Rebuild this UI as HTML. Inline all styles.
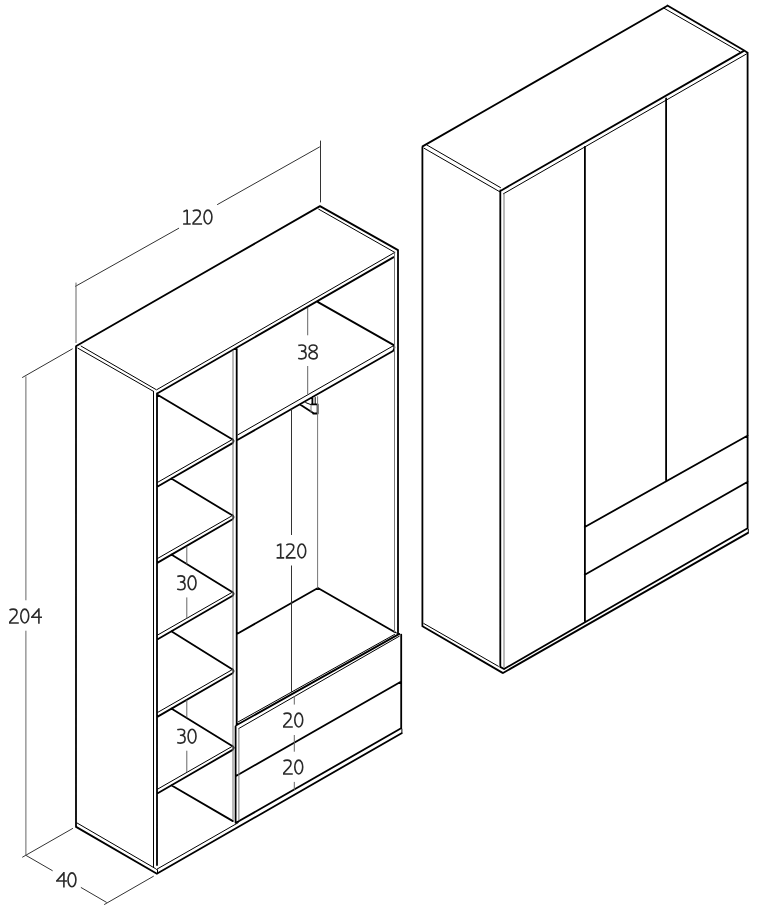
<!DOCTYPE html><html><head><meta charset="utf-8"><style>html,body{margin:0;padding:0;background:#fff;width:759px;height:909px;overflow:hidden}svg{display:block}text{font-family:"Liberation Sans",sans-serif;fill:#333}</style></head><body>
<svg width="759" height="909" viewBox="0 0 759 909">
<rect width="759" height="909" fill="#fff"/>
<path d="M76 346.5L76 826.9M76.3 346L320 206.1M320 206.1L397.6 249.9M398 250L398 633M76.1 826.9L156.9 873.7M157.2 873.5L401.6 733.2M157.6 393.2L393.7 257.1M157 393.5L157 865M236.7 348.5L236.7 724.8M157.9 395L232.6 439.5M232.3 438.9 Q234.6 440.7 232.6 443.1 L157.7 486.5M232.3 515 Q234.6 516.8 232.6 519.2 L157.7 562.6M232.3 591.6 Q234.6 593.4 232.6 595.8 L157.7 639.2M232.3 669 Q234.6 670.8 232.6 673.2 L157.7 716.6M232.3 745.7 Q234.6 747.5 232.6 749.9 L157.7 793.3M171.3 478.46L232.6 515.6M171.3 554.56L232.6 592.2M171.3 631.16L232.6 669.6M171.3 708.56L232.6 746.3M171.3 785.26L232.9 821.1M318 302.1L393.4 344.9Q395.5 347.6 393 351L237.4 440M317.9 588L236.9 634M317.9 588L395 632.3M300.1 404.6L313.6 413.3M311.4 404.3H317.6V413.5H313.2M312.4 397L312.4 404.3M236.3 725.3L399.3 633.9M235.6 726.3L235.6 822.8M401.2 634.6L401.2 728M236 776L400.8 681.8M236 822.8L401.1 728.3M422.4 147.2L422.4 625.5M422.6 146.4L667.4 5.8M667.4 5.5L743.8 50.3M743.8 50.3L747.6 52.7M747.6 52.7L747.6 528.3M422.5 626.3L502.6 672.9M503 673L748 532.9M500.3 666.9L504 669M504 669L747.2 528.5M500.8 190.7L743.8 50.9M500.3 190.5L500.3 666.3M584.9 146.9L584.9 621.1M666.1 98.5L666.1 480.7M584.8 527L747.8 435.5M584.8 574.8L747.8 481.7" stroke="#000" stroke-width="1.8" fill="none" stroke-linecap="round" stroke-linejoin="round"/>
<path d="M401.9 729L401.9 733.2M81.1 346.1L156.3 389.7M77.9 348.2L153.4 391.3M157.1 389.5L394.8 252.4M318.7 209.2L394.8 252.4M153.5 391.3L153.5 867.4M76.9 822.9L155.5 868.6M156.5 869.4L238.2 822.7M157.5 869.8L157.5 872.9M231.5 440L157.7 482.3M231.5 516.1L157.7 558.4M231.5 592.7L157.7 635M231.5 670.1L157.7 712.4M231.5 746.8L157.7 789.1M237.9 434.8L393.1 345.9M305.7 402.6L310.8 404.6M315.2 397.5L315.2 404.3M238.2 721.9L394.5 634.5M238.8 728.5L399.3 636.2M395 632.3L399.5 634.2M748.3 529.3L748.3 532.4M423.8 623.5L498.4 666.3M426.9 145L500.5 187.6M424 148.2L500 191.9M664 8.2L740.1 51.9M503.4 193.8L746.4 54" stroke="#000" stroke-width="1.0" fill="none" stroke-linecap="round" stroke-linejoin="round"/>
<path d="M394.5 252.9L394.5 632M233 351L233 819.5M317.6 396.7L317.6 588M311 405L311 412M238.9 728.5L238.9 820M504 193.5L504 667.4" stroke="#777" stroke-width="1.0" fill="none" stroke-linecap="round" stroke-linejoin="round"/>
<path d="M75.5 286.3L178.7 228.3M217.5 204.5L319.5 147M320.5 141L320.5 202M72.3 348.9L22.5 377.4M72.6 828.5L22.6 857.1M26 855.4L52.3 870.6M81.2 887.6L106.4 902.3M104.5 904.4L153.4 876.3M291.5 409.5L291.5 534.6M291.5 565.9L291.5 691.7" stroke="#333" stroke-width="1.0" fill="none" stroke-linecap="round" stroke-linejoin="round"/>
<path d="M76 283L76 342.6M25.9 376.8L25.9 599.9M25.9 631.1L25.9 855.5M307.7 308.3L307.7 334.9M307.7 366.4L307.7 394.2M186.8 546.9L186.8 563.9M186.8 597.8L186.8 618.3M186.8 700.3L186.8 717.2M186.8 751.1L186.8 771.7M294.3 696.5L294.3 704.2M294.3 735.4L294.3 751.3M294.3 782.3L294.3 789.6" stroke="#666" stroke-width="1.0" fill="none" stroke-linecap="round" stroke-linejoin="round"/>
<g fill="none" stroke="#2a2a2a" stroke-width="1.6" stroke-linecap="butt">
<g transform="translate(183.1 209.3)"><path d="M4.1 0.4V14.7M0.3 2.5L4.1 0.8M0 14.7H7.6"/></g>
<g transform="translate(192.3 209.3)"><path d="M0.5 1.9C1.6 1.1 2.8 0.8 4.2 0.8C6.6 0.8 8 2.1 8 4.1C8 5.9 7 7.2 5.4 8.8L0.8 13.7V14.7M0 14.7H9.8"/></g>
<g transform="translate(203.2 209.3)"><ellipse cx="4.75" cy="7.75" rx="3.95" ry="6.95"/></g>
<g transform="translate(297.9 344.2)"><path d="M0.4 1.4C1.5 0.9 2.7 0.8 3.9 0.8C6.3 0.8 7.7 1.9 7.7 3.7C7.7 5.6 6.1 6.9 3.9 6.9H3M3.9 6.9C6.6 6.9 8.2 8.3 8.2 10.6C8.2 13.1 6.4 14.7 3.7 14.7C2.4 14.7 1.2 14.4 0.3 14"/></g>
<g transform="translate(308.2 344.2)"><path d="M4.9 0.8C2.5 0.8 1 1.9 1 3.8C1 5.4 2.3 6.3 4.9 7.2C7.6 8.2 9 9.4 9 11.2C9 13.4 7.3 14.7 4.9 14.7C2.5 14.7 0.8 13.4 0.8 11.2C0.8 9.4 2.2 8.2 4.9 7.2C7.5 6.3 8.8 5.4 8.8 3.8C8.8 1.9 7.3 0.8 4.9 0.8Z"/></g>
<g transform="translate(276.6 543.2)"><path d="M4.1 0.4V14.7M0.3 2.5L4.1 0.8M0 14.7H7.6"/></g>
<g transform="translate(285.8 543.2)"><path d="M0.5 1.9C1.6 1.1 2.8 0.8 4.2 0.8C6.6 0.8 8 2.1 8 4.1C8 5.9 7 7.2 5.4 8.8L0.8 13.7V14.7M0 14.7H9.8"/></g>
<g transform="translate(297 543.2)"><ellipse cx="4.75" cy="7.75" rx="3.95" ry="6.95"/></g>
<g transform="translate(176.9 575.1)"><path d="M0.4 1.4C1.5 0.9 2.7 0.8 3.9 0.8C6.3 0.8 7.7 1.9 7.7 3.7C7.7 5.6 6.1 6.9 3.9 6.9H3M3.9 6.9C6.6 6.9 8.2 8.3 8.2 10.6C8.2 13.1 6.4 14.7 3.7 14.7C2.4 14.7 1.2 14.4 0.3 14"/></g>
<g transform="translate(187.3 575.1)"><ellipse cx="4.75" cy="7.75" rx="3.95" ry="6.95"/></g>
<g transform="translate(176.9 728.4)"><path d="M0.4 1.4C1.5 0.9 2.7 0.8 3.9 0.8C6.3 0.8 7.7 1.9 7.7 3.7C7.7 5.6 6.1 6.9 3.9 6.9H3M3.9 6.9C6.6 6.9 8.2 8.3 8.2 10.6C8.2 13.1 6.4 14.7 3.7 14.7C2.4 14.7 1.2 14.4 0.3 14"/></g>
<g transform="translate(187.3 728.4)"><ellipse cx="4.75" cy="7.75" rx="3.95" ry="6.95"/></g>
<g transform="translate(283 712.3)"><path d="M0.5 1.9C1.6 1.1 2.8 0.8 4.2 0.8C6.6 0.8 8 2.1 8 4.1C8 5.9 7 7.2 5.4 8.8L0.8 13.7V14.7M0 14.7H9.8"/></g>
<g transform="translate(294 712.3)"><ellipse cx="4.75" cy="7.75" rx="3.95" ry="6.95"/></g>
<g transform="translate(283 759.3)"><path d="M0.5 1.9C1.6 1.1 2.8 0.8 4.2 0.8C6.6 0.8 8 2.1 8 4.1C8 5.9 7 7.2 5.4 8.8L0.8 13.7V14.7M0 14.7H9.8"/></g>
<g transform="translate(294 759.3)"><ellipse cx="4.75" cy="7.75" rx="3.95" ry="6.95"/></g>
<g transform="translate(9 608.3)"><path d="M0.5 1.9C1.6 1.1 2.8 0.8 4.2 0.8C6.6 0.8 8 2.1 8 4.1C8 5.9 7 7.2 5.4 8.8L0.8 13.7V14.7M0 14.7H9.8"/></g>
<g transform="translate(20 608.3)"><ellipse cx="4.75" cy="7.75" rx="3.95" ry="6.95"/></g>
<g transform="translate(31 608.3)"><path d="M7.9 15.5V0M7.9 0.8L0.7 8.9M0 8.9H11"/></g>
<g transform="translate(56 872.1)"><path d="M7.9 15.5V0M7.9 0.8L0.7 8.9M0 8.9H11"/></g>
<g transform="translate(67.2 872.1)"><ellipse cx="4.75" cy="7.75" rx="3.95" ry="6.95"/></g>
</g>
</svg></body></html>
